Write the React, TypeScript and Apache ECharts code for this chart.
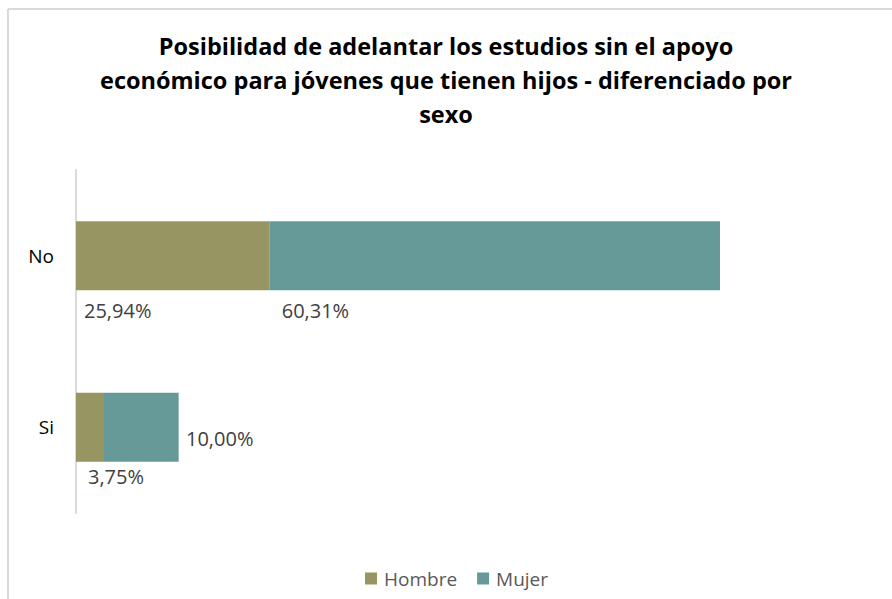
import React, { useEffect, useRef } from "react";
import * as echarts from "echarts";

const categories = ["No", "Si"];
const hombre = [25.94, 3.75];
const mujer = [60.31, 10.0];
const seriesNames = ["Hombre", "Mujer"];

const fmt = (v: number) => v.toFixed(2).replace(".", ",") + "%";

export default function App() {
  const ref = useRef<HTMLDivElement>(null);
  useEffect(() => {
    if (!ref.current) return;
    const chart = echarts.init(ref.current, null, { renderer: "svg" });
    const labelBase = {
      show: true,
      fontFamily: "Open Sans",
      fontSize: 20,
      color: "#404040",
      align: "left",
      verticalAlign: "middle",
      formatter: (p: any) => fmt(p.value),
    };
    chart.setOption({
      animation: false,
      backgroundColor: "#ffffff",
      title: {
        text:
          "Posibilidad de adelantar los estudios sin el apoyo\neconómico para jóvenes que tienen hijos - diferenciado por\nsexo",
        left: "center",
        top: 24,
        textStyle: {
          fontFamily: "Open Sans",
          fontWeight: "bold",
          fontSize: 23.5,
          lineHeight: 34,
          color: "#000000",
          align: "center",
        },
      },
      legend: {
        data: seriesNames,
        left: 360,
        top: 564,
        itemWidth: 12,
        itemHeight: 12,
        itemGap: 20,
        icon: "rect",
        textStyle: { fontFamily: "Open Sans", fontSize: 19, color: "#595959", padding: [0, 0, 0, 2] },
      },
      grid: { left: 76, right: 69.3, top: 170, bottom: 86, containLabel: false },
      xAxis: {
        type: "value",
        min: 0,
        max: 100,
        show: false,
      },
      yAxis: {
        type: "category",
        data: categories,
        inverse: true,
        axisLine: { show: true, lineStyle: { color: "#d9d9d9", width: 2 } },
        axisTick: { show: false },
        axisLabel: {
          fontFamily: "Open Sans",
          fontSize: 19,
          color: "#000000",
          margin: 22,
        },
      },
      series: [
        {
          name: seriesNames[0],
          type: "bar",
          stack: "total",
          barWidth: 69,
          itemStyle: { color: "#979562" },
          data: [
            { value: hombre[0], label: { ...labelBase, position: [8, 89] } },
            { value: hombre[1], label: { ...labelBase, position: [12, 84] } },
          ],
        },
        {
          name: seriesNames[1],
          type: "bar",
          stack: "total",
          barWidth: 69,
          itemStyle: { color: "#669A99" },
          data: [
            { value: mujer[0], label: { ...labelBase, position: [12, 89] } },
            { value: mujer[1], label: { ...labelBase, position: [82, 46] } },
          ],
        },
      ],
      graphic: [
        {
          type: "line",
          shape: { x1: 8, y1: 9, x2: 892, y2: 9 },
          style: { stroke: "#d9d9d9", lineWidth: 2 },
        },
        {
          type: "line",
          shape: { x1: 8, y1: 9, x2: 8, y2: 599 },
          style: { stroke: "#d9d9d9", lineWidth: 2 },
        },
      ],
    });
    return () => chart.dispose();
  }, []);
  return (
    <div
      ref={ref}
      style={{ position: "absolute", left: 0, top: 0, width: 892, height: 599 }}
    />
  );
}
